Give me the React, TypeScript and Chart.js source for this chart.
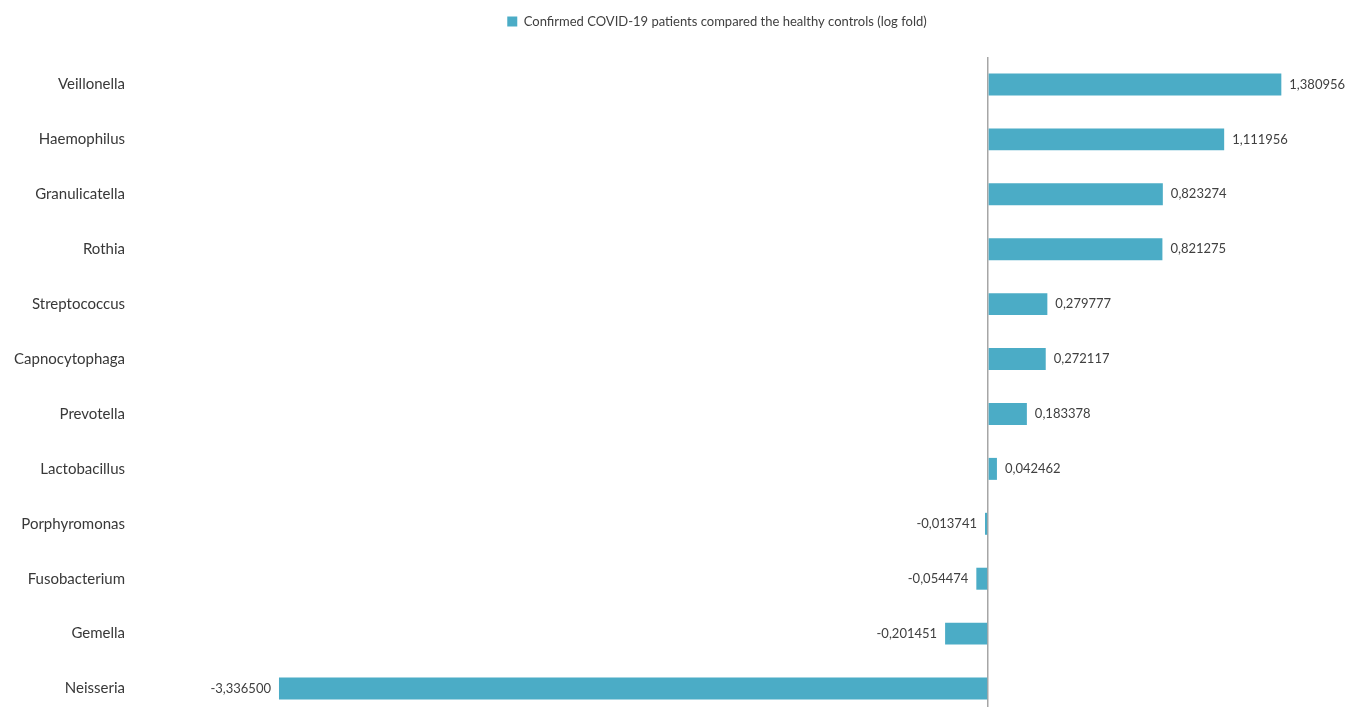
import { useEffect, useRef } from "react";
import { Chart, registerables } from "chart.js";

Chart.register(...registerables);

const categories = [
  "Veillonella",
  "Haemophilus",
  "Granulicatella",
  "Rothia",
  "Streptococcus",
  "Capnocytophaga",
  "Prevotella",
  "Lactobacillus",
  "Porphyromonas",
  "Fusobacterium",
  "Gemella",
  "Neisseria",
];

const values = [
  1.380956, 1.111956, 0.823274, 0.821275, 0.279777, 0.272117, 0.183378,
  0.042462, -0.013741, -0.054474, -0.201451, -3.3365,
];

const seriesLabel =
  "Confirmed COVID-19 patients compared the healthy controls (log fold)";

const FONT = "Lato";
const TEXT = "#404040";
const BAR = "#4BACC6";

const valueLabels = {
  id: "valueLabels",
  afterDatasetsDraw(chart: any) {
    const { ctx } = chart;
    const meta = chart.getDatasetMeta(0);
    ctx.save();
    ctx.font = `13px ${FONT}`;
    ctx.fillStyle = TEXT;
    ctx.textBaseline = "middle";
    meta.data.forEach((el: any, i: number) => {
      const v = values[i];
      const txt = v.toFixed(6).replace(".", ",");
      if (v >= 0) {
        ctx.textAlign = "left";
        ctx.fillText(txt, el.x + 8, el.y);
      } else {
        ctx.textAlign = "right";
        ctx.fillText(txt, el.x - 8, el.y);
      }
    });
    ctx.restore();
  },
};

export default function App() {
  const ref = useRef<HTMLCanvasElement | null>(null);

  useEffect(() => {
    if (!ref.current) return;
    const chart = new Chart(ref.current, {
      type: "bar",
      data: {
        labels: categories,
        datasets: [
          {
            label: seriesLabel,
            data: values,
            backgroundColor: BAR,
            borderWidth: 0,
            barPercentage: 0.4,
            categoryPercentage: 1,
          },
        ],
      },
      options: {
        indexAxis: "y",
        animation: false,
        responsive: true,
        maintainAspectRatio: false,
        layout: { padding: { top: 5, left: 0, right: 61, bottom: 0 } },
        plugins: {
          legend: {
            display: true,
            position: "top",
            fullSize: false,
            labels: {
              boxWidth: 10,
              boxHeight: 10,
              padding: 10,
              color: TEXT,
              font: { family: FONT, size: 13 },
            },
          },
          tooltip: { enabled: false },
        },
        scales: {
          x: {
            type: "linear",
            position: "top",
            min: -4,
            max: 1.45,
            ticks: { display: false, stepSize: 1 },
            border: { display: false },
            grid: {
              drawTicks: false,
              color: (c: any) =>
                c.tick && c.tick.value === 0 ? "#A6A6A6" : "rgba(0,0,0,0)",
              lineWidth: 1.5,
            },
            afterFit: (s: any) => {
              s.height = 19;
            },
          },
          y: {
            ticks: {
              color: "#383838",
              padding: 13,
              font: { family: FONT, size: 15 },
            },
            grid: { display: false, drawTicks: false },
            border: { display: false },
            afterFit: (s: any) => {
              s.width = 138;
            },
          },
        },
      },
      plugins: [valueLabels],
    });
    return () => chart.destroy();
  }, []);

  return (
    <div
      style={{
        position: "fixed",
        top: 0,
        left: 0,
        width: 1357,
        height: 707,
        overflow: "hidden",
        background: "#fff",
      }}
    >
      <div style={{ position: "relative", width: 1357, height: 738 }}>
        <canvas ref={ref} />
      </div>
    </div>
  );
}
